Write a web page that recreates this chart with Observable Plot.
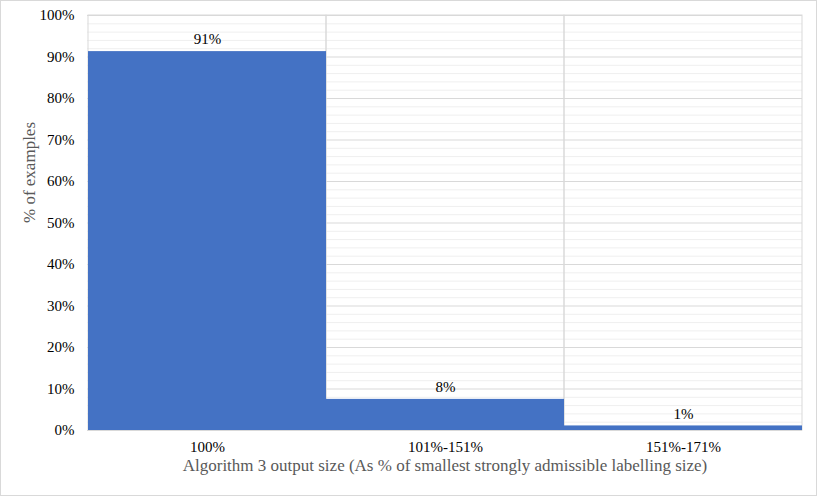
<!DOCTYPE html>
<html>
<head>
<meta charset="utf-8">
<script src="https://cdn.jsdelivr.net/npm/d3@7"></script>
<script src="https://cdn.jsdelivr.net/npm/@observablehq/plot@0.6"></script>
<style>
  body { margin: 0; background: #fff; }
  #wrap { width: 815px; height: 494px; border: 1px solid #d9d9d9; }
</style>
</head>
<body>
<div id="wrap"></div>
<script>
const categories = ["100%", "101%-151%", "151%-171%"];
const values = [91.3, 7.5, 1.1];
const labels = ["91%", "8%", "1%"];
const majorTicks = [0, 10, 20, 30, 40, 50, 60, 70, 80, 90, 100];
const minorTicks = d3.range(0, 101, 2);

const data = categories.map((c, i) => ({cat: c, v: values[i], label: labels[i]}));
const serif = "Liberation Serif, DejaVu Serif, serif";

const chart = Plot.plot({
  width: 815,
  height: 494,
  marginLeft: 86,
  marginRight: 14,
  marginTop: 14,
  marginBottom: 65,
  style: {fontSize: "15px", color: "#000", fontFamily: serif},
  x: {domain: categories, padding: 0, label: null},
  y: {domain: [0, 100], label: null},
  marks: [
    Plot.ruleY(minorTicks.filter(d => d % 10 !== 0), {stroke: "#efefef", strokeWidth: 1}),
    Plot.ruleY(majorTicks, {stroke: "#d9d9d9", strokeWidth: 1}),
    Plot.barY(categories, {x: d => d, y1: 0, y2: 100, fill: "none", stroke: "#d9d9d9", inset: 0}),
    Plot.barY(data, {x: "cat", y: "v", fill: "#4472C4", inset: 0}),
    Plot.text(data, {x: "cat", y: "v", text: "label", dy: -12, fill: "#000", fontSize: 15, fontFamily: serif}),
    Plot.axisY(majorTicks, {tickSize: 0, tickPadding: 13, tickFormat: d => d + "%", fill: "#000", fontSize: 15, fontFamily: serif, label: null}),
    Plot.axisX({tickSize: 0, tickPadding: 11, fill: "#000", fontSize: 15, fontFamily: serif, label: null}),
    Plot.text(["Algorithm 3 output size (As % of smallest strongly admissible labelling size)"], {
      frameAnchor: "bottom", dy: 40, fill: "#595959", fontSize: 17, fontFamily: serif
    }),
    Plot.text(["% of examples"], {
      frameAnchor: "left", dx: -58, rotate: -90, fill: "#595959", fontSize: 17, fontFamily: serif
    })
  ]
});
chart.querySelectorAll("text").forEach(t => t.setAttribute("font-family", serif));
document.getElementById("wrap").appendChild(chart);
</script>
</body>
</html>
